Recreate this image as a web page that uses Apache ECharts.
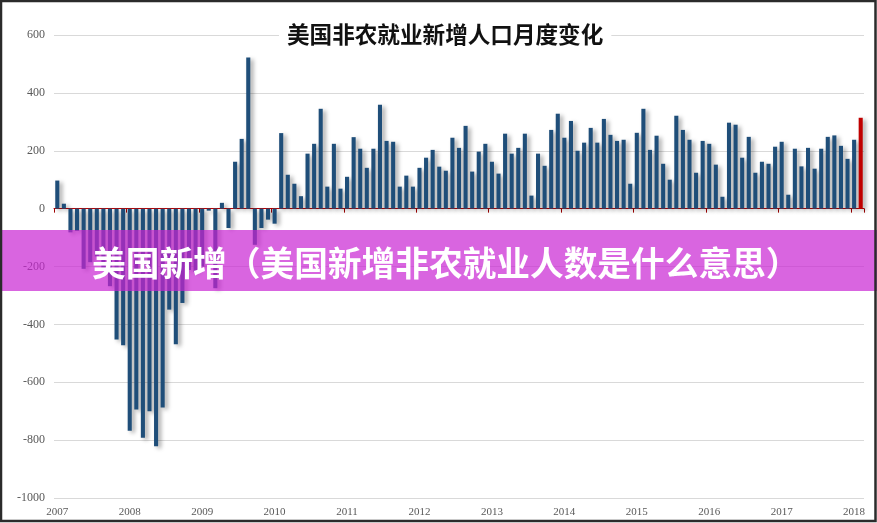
<!DOCTYPE html>
<html>
<head>
<meta charset="utf-8">
<script src="https://cdn.jsdelivr.net/npm/echarts@6/dist/echarts.min.js"></script>
<style>
html,body{margin:0;padding:0;background:#fff;}
#chart{width:877px;height:523px;}
</style>
</head>
<body>
<div id="chart"></div>
<script>
// Tick labels shown on the category axis (one every 11 months)
var yearTicks = ['2007','2008','2009','2010','2011','2012','2013','2014','2015','2016','2017','2018'];

// Monthly change in nonfarm payrolls (thousands), Dec 2007 -> Feb 2018
var payrollChange = [
  97, 17, -82, -77, -208, -185, -165, -209, -268, -452, -472, -768,
  -694, -792, -700, -821, -687, -349, -469, -326, -212, -219, -200, -7,
  -275, 20, -67, 162, 241, 522, -125, -67, -38, -52, 261, 117,
  86, 43, 190, 224, 345, 76, 224, 69, 110, 247, 207, 141,
  207, 359, 234, 231, 76, 114, 76, 141, 176, 203, 145, 131,
  245, 210, 286, 128, 197, 224, 162, 121, 259, 190, 210, 259,
  45, 190, 148, 272, 328, 245, 303, 200, 228, 279, 228, 310,
  255, 234, 238, 86, 262, 345, 203, 252, 155, 100, 321, 272,
  238, 124, 234, 224, 152, 41, 297, 290, 176, 248, 124, 162,
  155, 214, 231, 48, 207, 146, 210, 138, 207, 248, 253, 217,
  172, 238, 314
];

// Category labels (months), Dec 2007 onward
var months = [];
(function(){
  var y = 2007, m = 12;
  for (var i = 0; i < payrollChange.length; i++) {
    months.push(y + '-' + (m < 10 ? '0' + m : m));
    m++; if (m > 12) { m = 1; y++; }
  }
})();

var titleText = '美国非农就业新增人口月度变化';
var bannerText = '美国新增（美国新增非农就业人数是什么意思）';

var lastIdx = payrollChange.length - 1;
var barData = payrollChange.map(function(v, i){
  return i === lastIdx ? {value: v, itemStyle: {color: '#c00000'}} : v;
});

var chart = echarts.init(document.getElementById('chart'), null, {renderer: 'canvas'});
chart.setOption({
  animation: false,
  backgroundColor: '#ffffff',
  title: {
    text: titleText,
    left: 279,
    top: 19,
    padding: [4, 8],
    backgroundColor: '#ffffff',
    textStyle: {
      fontFamily: '"Noto Sans CJK SC", sans-serif',
      fontSize: 22.6,
      fontWeight: 'bold',
      color: '#111111'
    }
  },
  grid: {left: 54, right: 13, top: 35, bottom: 25, containLabel: false},
  xAxis: [
    {
      type: 'category',
      data: months,
      position: 'bottom',
      axisLine: {show: false, onZero: false},
      axisTick: {show: false},
      splitLine: {show: false},
      axisLabel: {
        interval: 10,
        margin: 9,
        color: '#595959',
        fontSize: 11,
        fontFamily: '"Liberation Serif", serif',
        formatter: function(value, idx){
          return idx % 11 === 0 ? (yearTicks[idx / 11] || '') : '';
        }
      }
    },
    {
      type: 'category',
      data: months,
      position: 'bottom',
      axisLine: {show: true, onZero: true, lineStyle: {color: '#c00000', width: 1}},
      axisTick: {show: true, interval: 10, length: 4, lineStyle: {color: '#a00000'}},
      axisLabel: {show: false},
      splitLine: {show: false}
    }
  ],
  yAxis: {
    type: 'value',
    min: -1000,
    max: 600,
    interval: 200,
    axisLine: {show: false},
    axisTick: {show: false},
    axisLabel: {
      margin: 9,
      color: '#595959',
      fontSize: 12,
      fontFamily: '"Liberation Serif", serif',
      formatter: function(v){ return String(v); }
    },
    splitLine: {lineStyle: {color: '#d9d9d9', width: 1}}
  },
  series: [{
    type: 'bar',
    xAxisIndex: 0,
    data: barData,
    barWidth: '62%',
    itemStyle: {
      color: '#1f4e79',
      shadowColor: 'rgba(0,0,0,0.35)',
      shadowBlur: 4,
      shadowOffsetX: 3,
      shadowOffsetY: 2
    }
  }],
  graphic: [
    {
      type: 'rect',
      z: 100,
      shape: {x: 0, y: 230, width: 877, height: 61},
      style: {fill: 'rgba(201,36,211,0.7)'}
    },
    {
      type: 'text',
      z: 101,
      x: 92,
      y: 263,
      style: {
        text: bannerText,
        fill: '#ffffff',
        font: 'bold 33.7px "Noto Sans CJK SC", sans-serif',
        textVerticalAlign: 'middle',
        verticalAlign: 'middle'
      }
    },
    {
      type: 'rect',
      z: 102,
      shape: {x: 1, y: 1, width: 874.5, height: 520},
      style: {fill: null, stroke: '#2b2b2b', lineWidth: 2.5}
    }
  ]
});
</script>
</body>
</html>
